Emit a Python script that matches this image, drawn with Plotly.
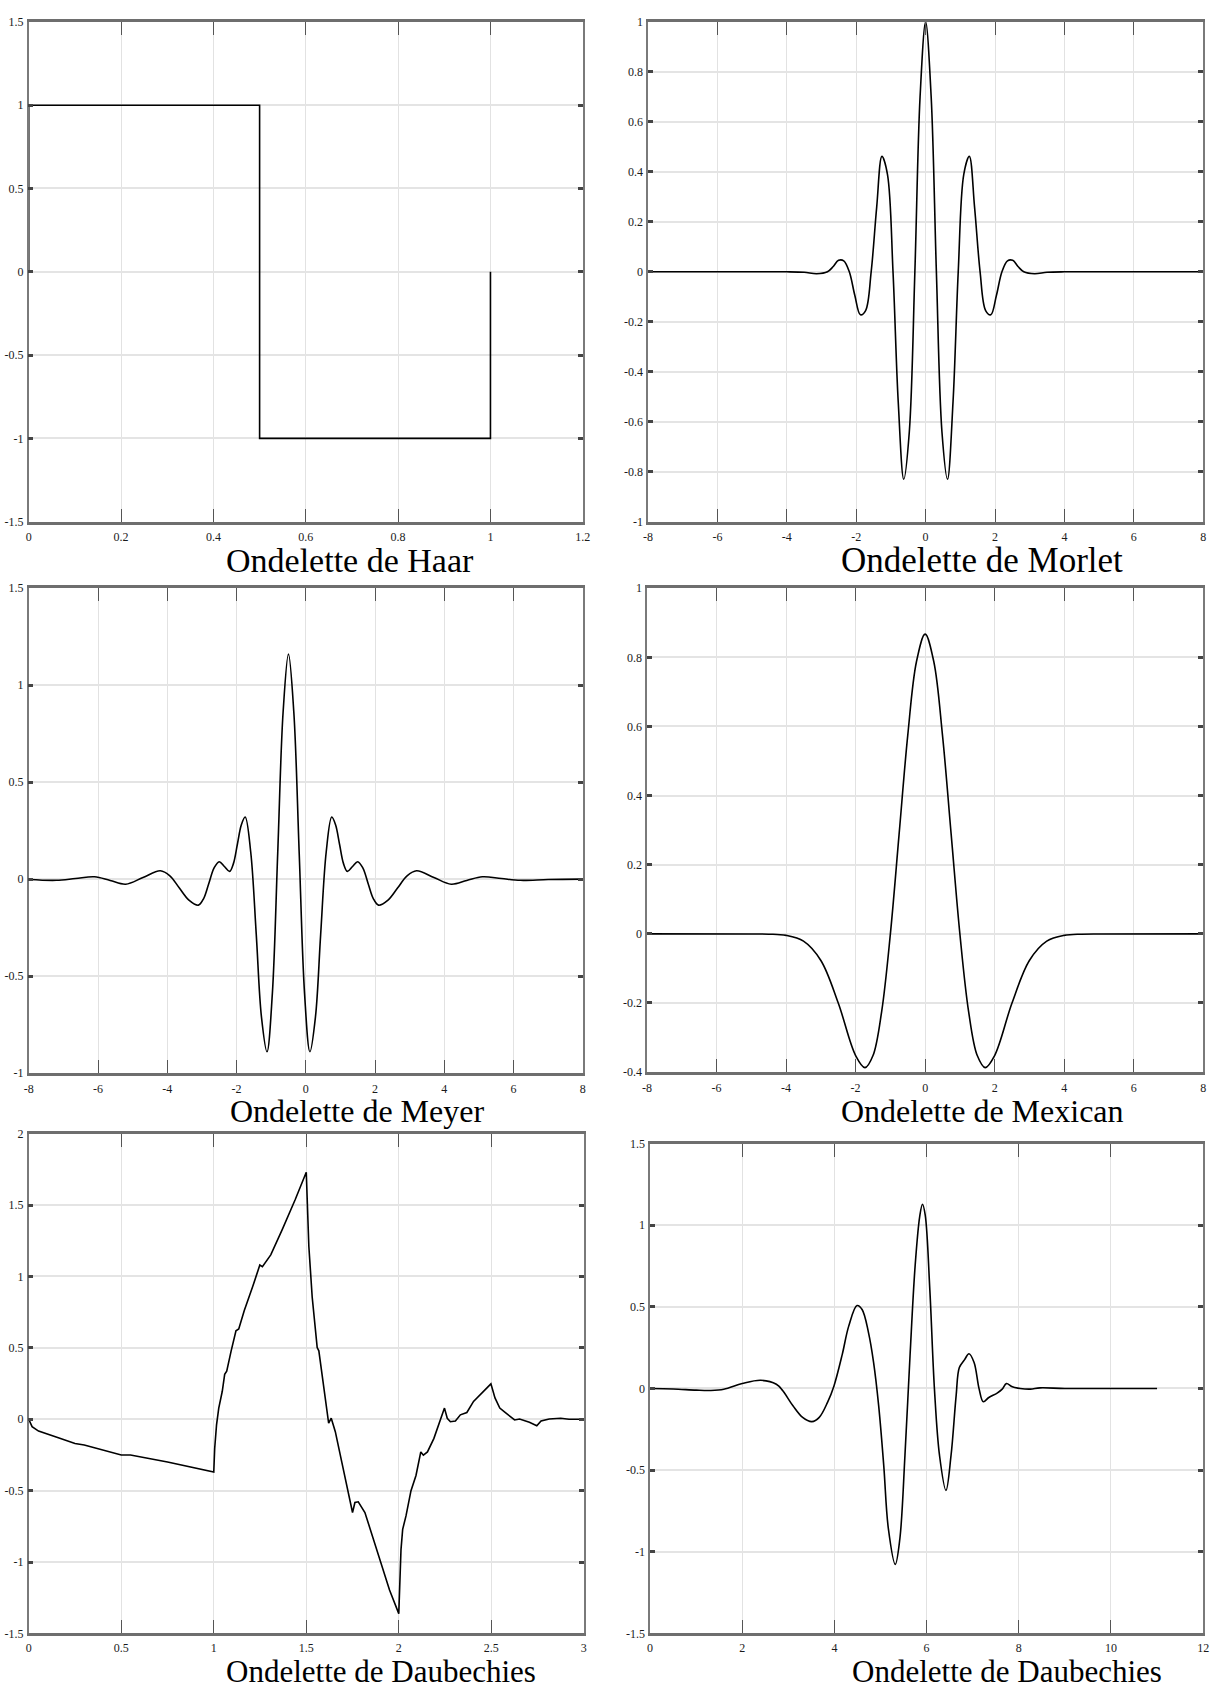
import plotly.graph_objects as go

# ---------------- data ----------------
haar_x = [0, 0, 0.5, 0.5, 1, 1]
haar_y = [0, 1, 1, -1, -1, 0]

morlet_x = [-8, -5, -4, -3.5, -3.14, -2.83, -2.67, -2.51, -2.36, -2.2, -2.04, -1.88, -1.73, -1.57,
            -1.41, -1.26, -1.1, -0.94, -0.79, -0.63, -0.47, -0.31, -0.16, 0,
            0.16, 0.31, 0.47, 0.63, 0.79, 0.94, 1.1, 1.26, 1.41, 1.57, 1.73, 1.88, 2.04, 2.2,
            2.36, 2.51, 2.67, 2.83, 3.14, 3.5, 4, 5, 8]
morlet_y = [0, 0, 0, -0.002, -0.008, 0, 0.02, 0.046, 0.044, 0, -0.095, -0.172, -0.155, 0,
            0.26, 0.462, 0.39, 0, -0.52, -0.83, -0.64, 0, 0.70, 1.0,
            0.70, 0, -0.64, -0.83, -0.52, 0, 0.39, 0.462, 0.26, 0, -0.155, -0.172, -0.095, 0,
            0.044, 0.046, 0.02, 0, -0.008, -0.002, 0, 0, 0]

meyer_x = [-8, -7.2, -6.65, -6.1, -5.65, -5.2, -4.7, -4.2, -3.925, -3.65, -3.375, -3.1, -2.95, -2.8,
           -2.65, -2.5, -2.35, -2.2, -2.09, -1.975, -1.86, -1.75, -1.59, -1.43, -1.28, -1.12,
           -0.965, -0.81, -0.655, -0.5,
           -0.345, -0.19, -0.035, 0.12, 0.28, 0.43, 0.59, 0.75, 0.86, 0.975, 1.09, 1.2, 1.35, 1.5,
           1.65, 1.8, 1.95, 2.1, 2.375, 2.65, 2.925, 3.2, 3.7, 4.2, 4.65, 5.1, 5.65, 6.2, 7, 8]
meyer_y = [-0.002, -0.006, 0.003, 0.012, -0.007, -0.026, 0.0085, 0.043, 0.017, -0.046, -0.108, -0.134,
           -0.1, -0.022, 0.057, 0.09, 0.065, 0.04, 0.08, 0.18, 0.28, 0.32, 0.14, -0.285, -0.71, -0.89,
           -0.59, 0.135, 0.86, 1.16,
           0.86, 0.135, -0.59, -0.89, -0.71, -0.285, 0.14, 0.32, 0.28, 0.18, 0.08, 0.04, 0.065, 0.09,
           0.057, -0.022, -0.1, -0.134, -0.108, -0.046, 0.017, 0.043, 0.0085, -0.026, -0.007, 0.012,
           0.003, -0.006, -0.002, 0.0]

mexican_x = [-8, -5, -4.5, -4, -3.5, -3, -2.5, -2, -1.73, -1.5, -1.25, -1, -0.75, -0.5, -0.25, 0,
             0.25, 0.5, 0.75, 1, 1.25, 1.5, 1.73, 2, 2.5, 3, 3.5, 4, 4.5, 5, 8]
mexican_y = [0, -0.0003, -0.001, -0.0044, -0.021, -0.077, -0.20, -0.352, -0.387, -0.352, -0.224, 0,
             0.287, 0.574, 0.787, 0.867, 0.787, 0.574, 0.287, 0, -0.224, -0.352, -0.387, -0.352,
             -0.20, -0.077, -0.021, -0.0044, -0.001, -0.0003, 0]

db_a_x = [0, 0.018, 0.053, 0.125, 0.16, 0.25, 0.30, 0.5, 0.55, 0.75, 1.0, 1.005, 1.015, 1.027, 1.046,
          1.059, 1.07, 1.094, 1.12, 1.135, 1.165, 1.21, 1.249, 1.263, 1.308, 1.37, 1.441, 1.5, 1.514,
          1.532, 1.559, 1.568, 1.594, 1.621, 1.635, 1.657, 1.692, 1.728, 1.75, 1.763, 1.781, 1.817,
          1.852, 1.87, 1.906, 1.95, 2.0, 2.012, 2.021, 2.039, 2.066, 2.093, 2.119, 2.133, 2.155, 2.19,
          2.247, 2.262, 2.279, 2.306, 2.333, 2.368, 2.404, 2.448, 2.498, 2.52, 2.546, 2.573, 2.626,
          2.653, 2.706, 2.746, 2.769, 2.813, 2.875, 2.92, 3.0]
db_a_y = [0, -0.052, -0.083, -0.118, -0.13, -0.17, -0.18, -0.25, -0.25, -0.30, -0.37, -0.205, -0.04,
          0.078, 0.196, 0.314, 0.337, 0.479, 0.62, 0.632, 0.762, 0.927, 1.08, 1.068, 1.151, 1.328, 1.54,
          1.73, 1.21, 0.856, 0.502, 0.479, 0.219, -0.028, 0.007, -0.087, -0.3, -0.512, -0.653, -0.583,
          -0.578, -0.653, -0.795, -0.866, -1.007, -1.196, -1.361, -0.913, -0.771, -0.677, -0.5, -0.394,
          -0.229, -0.252, -0.229, -0.134, 0.078, 0.007, -0.017, -0.012, 0.031, 0.047, 0.125, 0.184,
          0.248, 0.149, 0.078, 0.05, -0.005, 0.002, -0.021, -0.045, -0.012, 0.002, 0.007, 0, 0]

db_b_x = [0, 0.5, 1.0, 1.3, 1.6, 2.0, 2.4, 2.74, 2.88, 3.10, 3.31, 3.51, 3.67, 3.85, 3.99, 4.17, 4.31,
          4.49, 4.6, 4.74, 4.85, 4.96, 5.07, 5.17, 5.32, 5.42, 5.53, 5.64, 5.75, 5.85, 5.91, 5.97, 6.07,
          6.17, 6.28, 6.42, 6.53, 6.64, 6.71, 6.82, 6.92, 7.03, 7.14, 7.23, 7.35, 7.53, 7.64, 7.73, 7.86,
          8.03, 8.25, 8.46, 9, 10, 11]
db_b_y = [0, -0.003, -0.01, -0.012, -0.005, 0.03, 0.05, 0.026, -0.014, -0.106, -0.177, -0.203, -0.177,
          -0.085, 0.016, 0.209, 0.382, 0.508, 0.484, 0.341, 0.159, -0.106, -0.472, -0.858, -1.077,
          -0.919, -0.41, 0.199, 0.748, 1.053, 1.128, 1.061, 0.604, -0.004, -0.41, -0.624, -0.41, -0.045,
          0.128, 0.175, 0.213, 0.159, -0.004, -0.081, -0.055, -0.028, -0.004, 0.030, 0.010, 0.0, -0.004,
          0.004, 0, 0, 0]

titles = ["Ondelette de Haar", "Ondelette de Morlet", "Ondelette de Meyer",
          "Ondelette de Mexican", "Ondelette de Daubechies", "Ondelette de Daubechies"]

x_ticks = [
    [0, 0.2, 0.4, 0.6, 0.8, 1, 1.2],
    [-8, -6, -4, -2, 0, 2, 4, 6, 8],
    [-8, -6, -4, -2, 0, 2, 4, 6, 8],
    [-8, -6, -4, -2, 0, 2, 4, 6, 8],
    [0, 0.5, 1, 1.5, 2, 2.5, 3],
    [0, 2, 4, 6, 8, 10, 12],
]
y_ticks = [
    [-1.5, -1, -0.5, 0, 0.5, 1, 1.5],
    [-1, -0.8, -0.6, -0.4, -0.2, 0, 0.2, 0.4, 0.6, 0.8, 1],
    [-1, -0.5, 0, 0.5, 1, 1.5],
    [-0.4, -0.2, 0, 0.2, 0.4, 0.6, 0.8, 1],
    [-1.5, -1, -0.5, 0, 0.5, 1, 1.5, 2],
    [-1.5, -1, -0.5, 0, 0.5, 1, 1.5],
]

series = [
    (haar_x, haar_y, "linear"),
    (morlet_x, morlet_y, "spline"),
    (meyer_x, meyer_y, "spline"),
    (mexican_x, mexican_y, "spline"),
    (db_a_x, db_a_y, "linear"),
    (db_b_x, db_b_y, "spline"),
]

# ---------------- layout (page pixels; body margin removed below) ----------------
W, H = 1225, 1695
boxes = [  # left, right, top, bottom
    (24, 584, 15, 519),
    (650, 1211, 15, 519),
    (24, 584, 586, 1075),
    (649, 1211, 586, 1074),
    (24, 585, 1136, 1640),
    (652, 1211, 1146, 1640),
]
# title centre x, baseline y, font size
title_pos = [(349, 570, 34), (987, 570, 35), (356, 1124, 32), (988, 1124, 32),
             (380, 1689, 31), (1013, 1689, 31)]
x_label_standoff = [2, 2, 2, 2, 1, 1]


def lbl(v):
    return f"{v:g}"


fig = go.Figure()
layout = dict(width=W, height=H, margin=dict(l=0, r=0, t=0, b=0),
              paper_bgcolor="white", plot_bgcolor="white", showlegend=False,
              font=dict(family="Liberation Serif", color="#222"))
annotations = []
for i, ((xs, ys, shape), box, xt, yt) in enumerate(zip(series, boxes, x_ticks, y_ticks)):
    n = "" if i == 0 else str(i + 1)
    l, r, t, b = box
    line = dict(color="black", width=1.6, shape=shape)
    if shape == "spline":
        line["smoothing"] = 1.0
    fig.add_trace(go.Scatter(x=xs, y=ys, mode="lines", line=line,
                             xaxis="x" + n, yaxis="y" + n, hoverinfo="skip"))
    layout["xaxis" + n] = dict(
        domain=[l / W, r / W], anchor="y" + n, range=[xt[0], xt[-1]],
        tickmode="array", tickvals=xt, ticktext=[lbl(v) for v in xt],
        showgrid=True, gridcolor="#e2e2e2", gridwidth=1, zeroline=False,
        showline=True, linecolor="#6e6e6e", linewidth=3, mirror="ticks",
        ticks="inside", ticklen=13, tickwidth=1, tickcolor="#555",
        tickfont=dict(family="Liberation Serif", size=12, color="#1a1a1a"),
        ticklabelstandoff=x_label_standoff[i],
    )
    layout["yaxis" + n] = dict(
        domain=[1 - b / H, 1 - t / H], anchor="x" + n, range=[yt[0], yt[-1]],
        tickmode="array", tickvals=yt, ticktext=[lbl(v) for v in yt],
        showgrid=True, gridcolor="#e4e4e4", gridwidth=2, zeroline=False,
        showline=True, linecolor="#7a7a7a", linewidth=1.5, mirror="ticks",
        ticks="inside", ticklen=5, tickwidth=2.5, tickcolor="#444",
        tickfont=dict(family="Liberation Serif", size=12, color="#1a1a1a"),
        ticklabelstandoff=1,
    )
    cx, base, fs = title_pos[i]
    annotations.append(dict(text=titles[i], x=cx / W, y=1 - (base - 0.34 * fs) / H,
                            xref="paper", yref="paper",
                            xanchor="center", yanchor="middle", showarrow=False,
                            font=dict(family="Liberation Serif", size=fs, color="black")))
layout["annotations"] = annotations
fig.update_layout(**layout)
fig.write_html("out.html", config={"displayModeBar": False},
               post_script="document.body.style.margin='0px';"
                           "document.documentElement.style.overflow='hidden';"
                           "document.body.style.overflow='hidden';")
